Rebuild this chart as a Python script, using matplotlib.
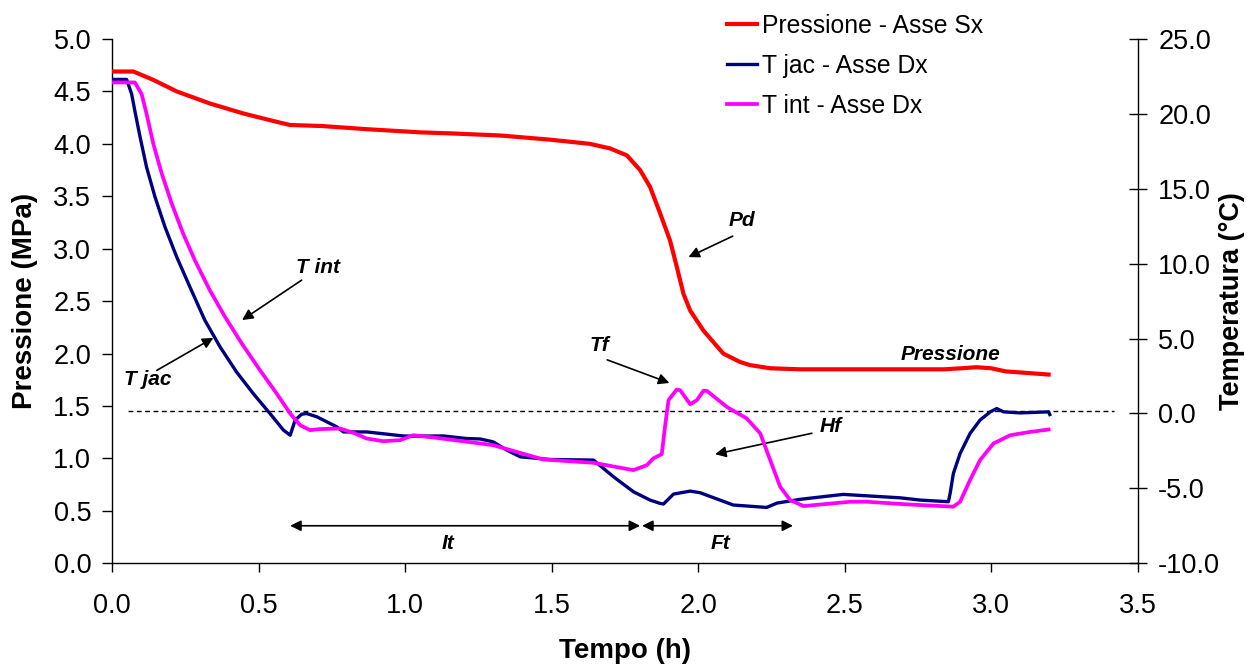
import matplotlib
matplotlib.use("Agg")
import matplotlib.pyplot as plt
from matplotlib.ticker import MultipleLocator, FormatStrFormatter

plt.rcParams['font.family'] = ['Liberation Sans', 'DejaVu Sans']

# ---- data ----
p_time = [0.00, 0.073, 0.141, 0.221, 0.334, 0.448, 0.562, 0.608, 0.717, 0.869, 1.05,
          1.154, 1.324, 1.495, 1.631, 1.70, 1.757, 1.802, 1.836, 1.870, 1.904, 1.927,
          1.950, 1.973, 2.018, 2.086, 2.143, 2.177, 2.246, 2.348, 2.50, 2.70,
          2.84, 2.90, 2.95, 3.00, 3.05, 3.10, 3.196]
p_val = [4.69, 4.69, 4.61, 4.50, 4.385, 4.29, 4.21, 4.18, 4.17, 4.14, 4.11,
         4.10, 4.08, 4.04, 4.00, 3.956, 3.89, 3.75, 3.59, 3.34, 3.08, 2.83,
         2.57, 2.41, 2.22, 2.00, 1.92, 1.89, 1.86, 1.85, 1.85, 1.85,
         1.85, 1.86, 1.87, 1.86, 1.83, 1.82, 1.80]

tjac_time = [0.00, 0.050, 0.067, 0.078, 0.096, 0.118, 0.147, 0.181, 0.221, 0.266, 0.317,
             0.369, 0.425, 0.482, 0.539, 0.585, 0.608, 0.625, 0.647, 0.664, 0.699, 0.767,
             0.79, 0.869, 0.994, 1.017, 1.131, 1.21, 1.256, 1.30, 1.347, 1.393, 1.495,
             1.643, 1.711, 1.779, 1.836, 1.870, 1.882, 1.916, 1.973, 2.007, 2.12, 2.234,
             2.269, 2.348, 2.495, 2.69, 2.758, 2.854, 2.86, 2.871, 2.894, 2.928, 2.962,
             2.997, 3.019, 3.042, 3.099, 3.196, 3.20]
tjac_val = [22.3, 22.3, 21.33, 20.2, 18.44, 16.44, 14.44, 12.44, 10.44, 8.44, 6.22,
            4.44, 2.77, 1.33, 0.0, -1.11, -1.45, -0.44, -0.05, 0.0, -0.22, -0.89,
            -1.23, -1.23, -1.5, -1.51, -1.5, -1.67, -1.7, -1.89, -2.44, -2.89, -3.07,
            -3.11, -4.22, -5.22, -5.78, -6.0, -6.04, -5.38, -5.18, -5.29, -6.11, -6.27,
            -5.98, -5.73, -5.4, -5.63, -5.78, -5.89, -5.33, -4.0, -2.67, -1.33, -0.44,
            0.11, 0.33, 0.11, 0.04, 0.11, -0.07]

tint_time = [0.00, 0.067, 0.078, 0.101, 0.118, 0.141, 0.170, 0.204, 0.243, 0.283, 0.334,
             0.386, 0.443, 0.505, 0.562, 0.608, 0.642, 0.676, 0.71, 0.778, 0.824, 0.869,
             0.926, 0.983, 1.028, 1.097, 1.30, 1.472, 1.643, 1.779, 1.825, 1.847, 1.876,
             1.887, 1.899, 1.927, 1.939, 1.973, 1.996, 2.018, 2.03, 2.098, 2.166, 2.212,
             2.246, 2.28, 2.314, 2.36, 2.52, 2.576, 2.70, 2.758, 2.871, 2.894, 2.928,
             2.962, 3.008, 3.065, 3.133, 3.196]
tint_val = [22.1, 22.1, 22.1, 21.33, 20.0, 18.0, 16.0, 14.0, 12.0, 10.22, 8.22,
            6.44, 4.67, 2.89, 1.33, 0.0, -0.78, -1.11, -1.04, -1.0, -1.29, -1.67,
            -1.85, -1.78, -1.45, -1.6, -2.11, -3.07, -3.29, -3.78, -3.45, -3.0, -2.71,
            -0.89, 0.89, 1.6, 1.55, 0.62, 0.89, 1.51, 1.51, 0.44, -0.33, -1.33,
            -3.11, -4.89, -5.78, -6.18, -5.89, -5.89, -6.05, -6.11, -6.22, -5.89, -4.44,
            -3.11, -2.0, -1.45, -1.23, -1.07]

legend_labels = ["Pressione - Asse Sx", "T jac - Asse Dx", "T int - Asse Dx"]
x_label = "Tempo (h)"
y_label_left = "Pressione (MPa)"
y_label_right = "Temperatura (°C)"

# ---- figure ----
W, H = 1247, 664
fig = plt.figure(figsize=(W / 100, H / 100), dpi=100)
ax = fig.add_axes([112 / W, 1 - 563.3 / H, (1137.7 - 112) / W, (563.3 - 39) / H])
ax2 = ax.twinx()

ax.set_xlim(0, 3.5)
ax.set_ylim(0, 5)
ax2.set_ylim(-10, 25)
ax.xaxis.set_major_locator(MultipleLocator(0.5))
ax.yaxis.set_major_locator(MultipleLocator(0.5))
ax2.yaxis.set_major_locator(MultipleLocator(5))
ax.xaxis.set_major_formatter(FormatStrFormatter('%.1f'))
ax.yaxis.set_major_formatter(FormatStrFormatter('%.1f'))
ax2.yaxis.set_major_formatter(FormatStrFormatter('%.1f'))

for a in (ax, ax2):
    a.spines['top'].set_visible(False)
    for s in a.spines.values():
        s.set_linewidth(1.0)
ax.spines['right'].set_visible(False)
ax2.spines['left'].set_visible(False)
ax2.spines['bottom'].set_visible(False)

ax.tick_params(axis='y', direction='out', length=7, width=1, labelsize=19.5, pad=8)
ax.tick_params(axis='x', direction='out', length=6.5, width=1, labelsize=19.5, pad=15)
ax2.tick_params(axis='y', direction='inout', length=13.5, width=1, labelsize=19.5, pad=8)

ax.set_xlabel(x_label, fontsize=20, fontweight='bold', va='center')
ax.set_ylabel(y_label_left, fontsize=20, fontweight='bold', va='center')
ax2.set_ylabel(y_label_right, fontsize=19.5, fontweight='bold', rotation=90, va='center')
ax.xaxis.set_label_coords(0.5, -0.167)
ax.yaxis.set_label_coords(-0.0848, 0.5)
ax2.yaxis.set_label_coords(1.0915, 0.5)

# dashed reference line
ax2.hlines(0.2, 0.055, 3.42, colors='black', linestyles=(0, (3.5, 2.5)), lw=1.0)

l2, = ax2.plot(tjac_time, tjac_val, color='#000080', lw=2.4, zorder=3)
l3, = ax2.plot(tint_time, tint_val, color='#FF00FF', lw=2.7, zorder=4)
# pressure belongs to the left axis; drawn on ax2 with ax's data transform so it stays on top
lp, = ax2.plot(p_time, p_val, color='#FF0000', lw=3.0, zorder=5, transform=ax.transData)

# ---- annotations (in time / pressure coordinates) ----
tr = ax.transData
arrow = dict(arrowstyle='-|>', color='black', lw=1.2, mutation_scale=16, shrinkA=0, shrinkB=0)
txt_kw = dict(fontsize=15, fontweight='bold', fontstyle='italic', ha='center', va='center')

ax2.annotate('', xy=(0.444, 2.32), xytext=(0.647, 2.70), xycoords=tr, textcoords=tr, arrowprops=arrow)
ax2.text(0.703, 2.82, 'T int', transform=tr, **txt_kw)
ax2.annotate('', xy=(0.346, 2.15), xytext=(0.153, 1.84), xycoords=tr, textcoords=tr, arrowprops=arrow)
ax2.text(0.123, 1.75, 'T jac', transform=tr, **txt_kw)
ax2.annotate('', xy=(1.967, 2.92), xytext=(2.118, 3.12), xycoords=tr, textcoords=tr, arrowprops=arrow)
ax2.text(2.150, 3.27, 'Pd', transform=tr, **txt_kw)
ax2.annotate('', xy=(1.902, 1.72), xytext=(1.690, 1.94), xycoords=tr, textcoords=tr, arrowprops=arrow)
ax2.text(1.662, 2.08, 'Tf', transform=tr, **txt_kw)
ax2.annotate('', xy=(2.058, 1.04), xytext=(2.388, 1.24), xycoords=tr, textcoords=tr, arrowprops=arrow)
ax2.text(2.451, 1.30, 'Hf', transform=tr, **txt_kw)
ax2.text(2.860, 1.99, 'Pressione', transform=tr, **txt_kw)

darrow = dict(arrowstyle='<|-|>', color='black', lw=1.2, mutation_scale=16, shrinkA=0, shrinkB=0)
ax2.annotate('', xy=(0.608, 0.358), xytext=(1.802, 0.358), xycoords=tr, textcoords=tr, arrowprops=darrow)
ax2.annotate('', xy=(1.809, 0.358), xytext=(2.324, 0.358), xycoords=tr, textcoords=tr, arrowprops=darrow)
ax2.text(1.147, 0.19, 'It', transform=tr, **txt_kw)
ax2.text(2.075, 0.19, 'Ft', transform=tr, **txt_kw)

# ---- legend ----
fig.legend([lp, l2, l3], legend_labels, loc='upper left',
           bbox_to_anchor=(727 / W, 1 - 14 / H), frameon=False, fontsize=17.8,
           handlelength=1.2, handletextpad=0.2, labelspacing=0.64,
           borderpad=0, borderaxespad=0)

fig.savefig('out.png', dpi=100)
